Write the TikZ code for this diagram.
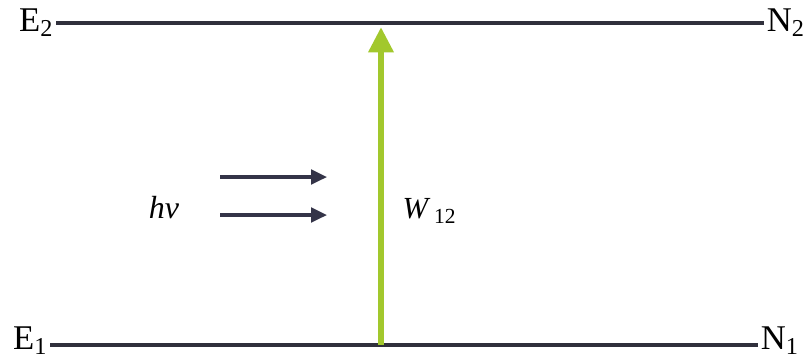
\documentclass[tikz,border=0pt]{standalone}
\usepackage{fontspec}
\setmainfont{Liberation Serif}
\usepackage{xcolor}
\usetikzlibrary{arrows.meta}

\definecolor{levelgray}{RGB}{48,48,60}
\definecolor{absgreen}{RGB}{162,200,45}
\definecolor{photongray}{RGB}{52,52,72}

\begin{document}
\begin{tikzpicture}[x=0.75pt,y=-0.75pt,
  level/.style={draw=levelgray,line width=3.2pt},
  lbl/.style={font=\fontsize{26}{29}\selectfont,inner sep=2pt},
  photon/.style={draw=photongray,line width=2.4pt,
                 -{Triangle[length=12pt,width=11pt]}},
  trans/.style={draw=absgreen,line width=5pt,
                -{Triangle[length=19pt,width=18pt]}}]

  \useasboundingbox (0,0) rectangle (809,362);

  % energy levels with labels (upper E2/N2, lower E1/N1)
  \coordinate (up-l) at (56,23);  \coordinate (up-r) at (764,23);
  \coordinate (lo-l) at (50,345); \coordinate (lo-r) at (758,345);
  \node[lbl,anchor=east] (E2) at (up-l) {E\textsubscript{2}};
  \node[lbl,anchor=west] (N2) at (up-r) {N\textsubscript{2}};
  \node[lbl,anchor=east,yshift=3pt] (E1) at (lo-l) {E\textsubscript{1}};
  \node[lbl,anchor=west,yshift=3pt] (N1) at (lo-r) {N\textsubscript{1}};
  \draw[level] (up-l) -- (up-r);
  \draw[level] (lo-l) -- (lo-r);

  % absorption W12
  \coordinate (w-bot) at (381,345);
  \coordinate (w-top) at (381,27);
  \draw[trans] (w-bot) -- (w-top);
  \node[font=\fontsize{23}{26}\selectfont,anchor=west] (W12) at (398,211)
        {\textit{W}\textsubscript{\,12}};

  % incoming photons
  \node[font=\fontsize{24}{27}\selectfont\itshape] (hv) at (164,208) {hv};
  \foreach \k/\yy in {a/177, b/215} {
    \coordinate (ph-\k-s) at (220,\yy);
    \coordinate (ph-\k-e) at (327,\yy);
    \draw[photon] (ph-\k-s) -- (ph-\k-e);
  }

\end{tikzpicture}
\end{document}
